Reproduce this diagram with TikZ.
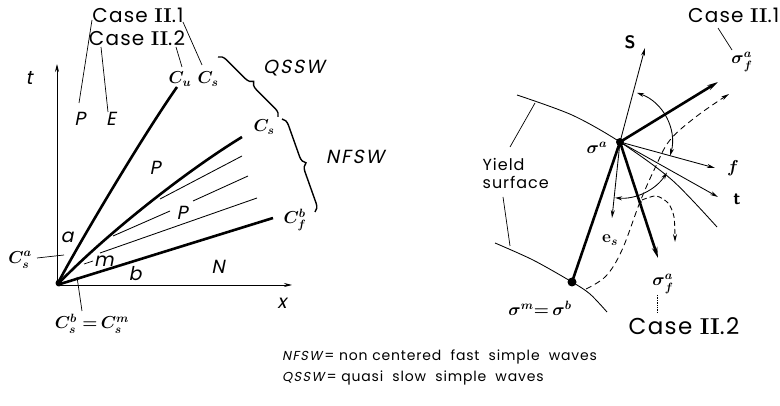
\documentclass[tikz,border=0pt]{standalone}
\usepackage{amsmath}
\usepackage{fontspec}
\newfontfamily\pop[LetterSpace=6]{Poppins}
\newfontfamily\popw[LetterSpace=6]{Poppins}
\newfontfamily\popi[FakeSlant=0.2,LetterSpace=10]{Poppins}
\newfontfamily\lmrII{Latin Modern Roman}
\newcommand\RII{{\lmrII\bfseries II}}
\usetikzlibrary{arrows.meta,decorations.pathreplacing}
\begin{document}
\begin{tikzpicture}[x=1pt,y=-1pt,
  bold/.style={line width=2.6pt},
  fine/.style={line width=0.85pt},
  lead/.style={line width=0.7pt},
  tip/.style={-{Stealth[length=11pt,width=5.5pt]}},
  tipsm/.style={-{Stealth[length=8pt,width=4pt]}},
  dbl/.style={{Stealth[length=7pt,width=4pt]}-{Stealth[length=7pt,width=4pt]}},
  lab/.style={font=\pop\fontsize{20}{22}\selectfont, inner sep=0.5pt},
  ilab/.style={font=\popi\fontsize{19}{19}\selectfont, inner sep=0.5pt},
  mlab/.style={font=\fontsize{18}{18}\selectfont\boldmath, inner sep=0.5pt},
  brc/.style={decorate, decoration={brace, amplitude=8pt}, line width=1.4pt},
  dot/.style={circle, fill=black, inner sep=0pt, minimum size=#1},
]
\useasboundingbox (0,0) rectangle (780,406);

% ---------------- left diagram ----------------
\coordinate (O) at (57,285);
\coordinate (tT) at (57,64);
\coordinate (xT) at (292,285);
\draw[fine, tipsm] (O) -- (tT);
\draw[fine, tipsm] (O) -- (xT);
\node[dot=7pt] (Od) at (59,283) {};

\coordinate (CuE) at (177,87);
\coordinate (CsE) at (242,137);
\coordinate (CfE) at (273,218);
\draw[bold] (O) .. controls (75,250) and (140,140) .. (CuE);
\draw[bold] (O) .. controls (100,240) and (180,175) .. (CsE);
\draw[bold] (O) -- (CfE);

\coordinate (l1a) at (160,199); \coordinate (l1b) at (242,156);
\coordinate (l2a) at (113,236); \coordinate (l2b) at (170,211);
\coordinate (l2c) at (193,201); \coordinate (l2d) at (248,176);
\coordinate (l3a) at (100,253); \coordinate (l3b) at (257,198);
\draw[fine] (l1a) -- (l1b);
\draw[fine] (l2a) -- (l2b);
\draw[fine] (l2c) -- (l2d);
\draw[fine] (l3a) -- (l3b);

\node[ilab] (tl) at (29,78) {t};
\node[ilab] (xl) at (282,303) {x};
\node[ilab] (Pl) at (80,119) {P};
\node[ilab] (El) at (111,119) {E};
\node[lab] (caseA) at (138,15) {Case \RII.1};
\node[lab] (caseB) at (137,38) {Case \RII.2};
\node[mlab] (Cul) at (180,79) {$C_u$};
\node[mlab] (Csl) at (208,79) {$C_s$};
\node[mlab] (Cs2l) at (264,127) {$C_s$};
\node[mlab] (Cfl) at (295,220) {$C_f^b$};
\node[ilab] (qssw) at (294,68) {QSSW};
\node[ilab] (nfsw) at (355,157) {NFSW};
\node[ilab] (P1) at (155,168) {P};
\node[ilab] (P2) at (182,213) {P};
\node[ilab] (al) at (67,237) {a};
\node[mlab] (Csal) at (20,260) {$C_s^a$};
\node[ilab] (ml) at (104,261) {m};
\node[ilab] (bl) at (135,274) {b};
\node[ilab] (Nl) at (218,267) {N};
\node[mlab] (Csbl) at (92,324) {$C_s^b\ {=}\,C_s^m$};

\coordinate (k1a) at (92,20);  \coordinate (k1b) at (79,103);
\coordinate (k2a) at (101,47); \coordinate (k2b) at (108,112);
\coordinate (k3a) at (176,47); \coordinate (k3b) at (182,67);
\coordinate (k4a) at (183,22); \coordinate (k4b) at (202,65);
\coordinate (k5a) at (37,258); \coordinate (k5b) at (64,255);
\coordinate (k6a) at (84,264); \coordinate (k6b) at (93,261);
\coordinate (k7a) at (77,277); \coordinate (k7b) at (82,311);
\draw[lead] (k1a) -- (k1b);
\draw[lead] (k2a) -- (k2b);
\draw[lead] (k3a) -- (k3b);
\draw[lead] (k4a) -- (k4b);
\draw[lead] (k5a) -- (k5b);
\draw[lead] (k6a) -- (k6b);
\draw[lead] (k7a) -- (k7b);

\coordinate (bq1) at (218,57);  \coordinate (bq2) at (278,117);
\coordinate (bn1) at (282,119); \coordinate (bn2) at (315,212);
\draw[brc] (bq1) -- (bq2);
\draw[brc] (bn1) -- (bn2);

% ---------------- right diagram ----------------
\coordinate (sa) at (620,142);
\coordinate (sb) at (572,282);
\coordinate (Stip) at (645,48);
\coordinate (estip) at (612,218);
\coordinate (ftip) at (715,168);
\coordinate (ttip) at (718,197);
\coordinate (f1tip) at (718,82);
\coordinate (f2tip) at (658,258);
\coordinate (d) at (640,202);

% yield surfaces
\draw[fine] plot[smooth] coordinates {(517,95) (572,115) (620,142) (672,180) (717,227)};
\draw[fine] plot[smooth] coordinates {(495,243) (533,260) (572,282) (590,294) (607,312)};

\draw[fine, tipsm] (sa) -- (Stip);
\draw[fine, tipsm] (sa) -- (estip);
\draw[fine, tipsm] (sa) -- (ftip);
\draw[fine, tipsm] (sa) -- (ttip);
\draw[bold] (sb) -- (sa);
\draw[bold, tip] (sa) -- (f1tip);
\draw[bold, tip] (sa) -- (f2tip);

% arcs
\draw[fine, dbl] ([shift={(-71:52)}]sa) arc (-71:15:52);
\draw[fine, dbl] ([shift={(95:56)}]sa) arc (95:33:56);

% dashed paths
\draw[fine, dash pattern=on 6pt off 4pt, tipsm] plot[smooth, tension=0.6] coordinates {(586,289) (606,276) (622,250) (640,202) (655,168) (670,140) (697,116) (729,94)};
\draw[fine, dash pattern=on 5pt off 3pt, tipsm] plot[smooth] coordinates {(642,200) (656,196) (668,203) (674,217) (675,242)};

\node[dot=8pt] (sad) at (sa) {};
\node[dot=9pt] (sbd) at (sb) {};
\node[dot=3.5pt] (dd) at (d) {};

\node[mlab] (sal) at (597,148) {$\boldsymbol{\sigma}^a$};
\node[font=\sffamily\bfseries\fontsize{18}{18}\selectfont] (Sl) at (630,42) {S};
\node[mlab] (fl) at (733,168) {$\boldsymbol{f}$};
\node[font=\sffamily\bfseries\fontsize{18}{18}\selectfont] (tlr) at (737,199) {t};
\node[mlab] (esl) at (610,240) {$\mathbf{e}_s$};
\node[mlab] (sf1) at (742,62) {$\boldsymbol{\sigma}_f^a$};
\node[mlab] (sf2) at (663,284) {$\boldsymbol{\sigma}_f^a$};
\node[lab, anchor=east] (caseC) at (780,15) {Case \RII.1};
\node[lab, font=\pop\fontsize{23}{23}\selectfont] (caseD) at (684,326) {Case \RII.2};
\node[mlab] (smb) at (540,308) {$\boldsymbol{\sigma}^m{=}\,\boldsymbol{\sigma}^b$};
\node[lab, font=\pop\fontsize{16}{18}\selectfont, align=left, anchor=west] (ys) at (482,173) {Yield\\surface};

\coordinate (y1a) at (510,147); \coordinate (y1b) at (535,103);
\coordinate (y2a) at (503,197); \coordinate (y2b) at (510,246);
\draw[lead] (y1a) -- (y1b);
\draw[lead] (y2a) -- (y2b);
\coordinate (c1a) at (718,28); \coordinate (c1b) at (732,50);
\draw[lead] (c1a) -- (c1b);
\coordinate (c2a) at (657,295); \coordinate (c2b) at (657,313);
\draw[lead, densely dotted] (c2a) -- (c2b);

% ---------------- legend ----------------
\node[anchor=west, inner sep=0pt] (leg1) at (282,357) {{\popi\fontsize{13}{13}\selectfont NFSW}{\popw\fontsize{14}{14}\selectfont\,= non centered \ fast \ simple \ waves}};
\node[anchor=west, inner sep=0pt] (leg2) at (282,378) {{\popi\fontsize{13}{13}\selectfont QSSW}{\popw\fontsize{14}{14}\selectfont\,= quasi \ slow \ simple \ waves}};
\end{tikzpicture}
\end{document}
